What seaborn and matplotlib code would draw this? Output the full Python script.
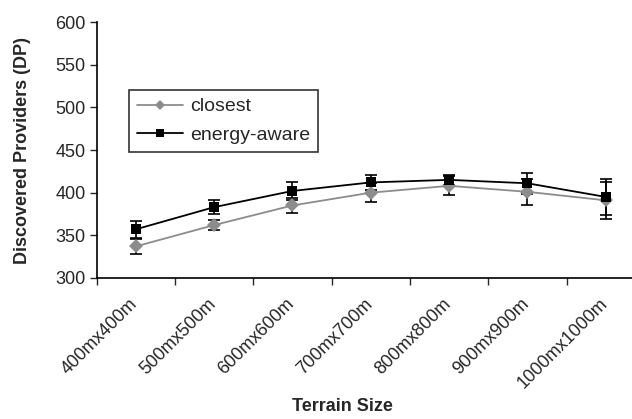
import numpy as np
import pandas as pd
import matplotlib
matplotlib.use("Agg")
import matplotlib.pyplot as plt
import matplotlib.transforms as mtransforms
import seaborn as sns

# Terrain sizes on the x axis
terrains = ["400mx400m", "500mx500m", "600mx600m", "700mx700m",
            "800mx800m", "900mx900m", "1000mx1000m"]

# Discovered providers per provider-selection scheme
closest_dp = [337, 362, 385, 400, 408, 401, 391]
closest_err = [9, 6, 9, 11, 11, 15, 22]
energy_dp = [357, 383, 402, 412, 415, 411, 395]
energy_err = [10, 8, 11, 9, 6, 12, 21]

series_names = ["closest", "energy-aware"]

sns.set_style("white")
plt.rcParams["font.family"] = ["Liberation Sans", "DejaVu Sans"]

pos = np.arange(len(terrains))
df = pd.DataFrame({
    "pos": np.concatenate([pos, pos]),
    "dp": closest_dp + energy_dp,
    "scheme": [series_names[0]] * len(pos) + [series_names[1]] * len(pos),
})

fig = plt.figure(figsize=(6.32, 4.19), dpi=100)
ax = fig.add_axes([96.5 / 632, 1 - 278 / 419, 548.5 / 632, 256 / 419])

palette = {"closest": "#8c8c8c", "energy-aware": "#000000"}
markers = {"closest": "D", "energy-aware": "s"}

# error bars first so markers sit on top
ax.errorbar(pos, closest_dp, yerr=closest_err, fmt="none", ecolor="black",
            elinewidth=1.2, capsize=4, capthick=1.2, zorder=2)
ax.errorbar(pos, energy_dp, yerr=energy_err, fmt="none", ecolor="black",
            elinewidth=1.2, capsize=4, capthick=1.2, zorder=2)

sns.lineplot(data=df, x="pos", y="dp", hue="scheme", style="scheme",
             palette=palette, markers=markers, dashes=False,
             markersize=7, linewidth=1.3, markeredgewidth=0,
             ax=ax, zorder=3, legend=True)

ax.set_xlim(-0.5, len(terrains) - 0.5)
ax.set_ylim(300, 600)
ax.set_yticks(np.arange(300, 601, 50))
ax.tick_params(axis="y", labelsize=13, length=5, width=1, direction="out",
               left=True, pad=3)

# category boundaries as major ticks, labels at category centres
ax.set_xticks(np.arange(-0.5, len(terrains), 1.0))
ax.set_xticklabels([])
ax.set_xticks(pos, minor=True)
ax.set_xticklabels(terrains, minor=True, rotation=45, ha="right",
                   rotation_mode="anchor", fontsize=13)
ax.tick_params(axis="x", which="major", length=5, width=1, direction="out",
               bottom=True)
ax.tick_params(axis="x", which="minor", length=0, pad=6)
shift = mtransforms.ScaledTranslation(-7 / 100, -9 / 100, fig.dpi_scale_trans)
for lbl in ax.get_xticklabels(minor=True):
    lbl.set_transform(lbl.get_transform() + shift)

for side in ["top", "right"]:
    ax.spines[side].set_visible(False)
for side in ["left", "bottom"]:
    ax.spines[side].set_color("black")
    ax.spines[side].set_linewidth(1.2)

ax.set_xlabel("Terrain Size", fontsize=13, fontweight="bold")
ax.xaxis.set_label_coords((342 - 96.5) / 548.5, -0.468)
ax.set_ylabel("Discovered Providers (DP)", fontsize=13, fontweight="bold")
ax.yaxis.set_label_coords(-0.12, 0.5)

leg = ax.legend(loc="upper left", bbox_to_anchor=(0.059, 0.734),
                borderaxespad=0, frameon=True, fancybox=False, fontsize=14,
                handlelength=2.4, handletextpad=0.35, borderpad=0.4,
                labelspacing=0.55, title=None, markerscale=0.8)
leg.get_frame().set_edgecolor("black")
leg.get_frame().set_linewidth(1.2)

fig.savefig("out.png", dpi=100)
